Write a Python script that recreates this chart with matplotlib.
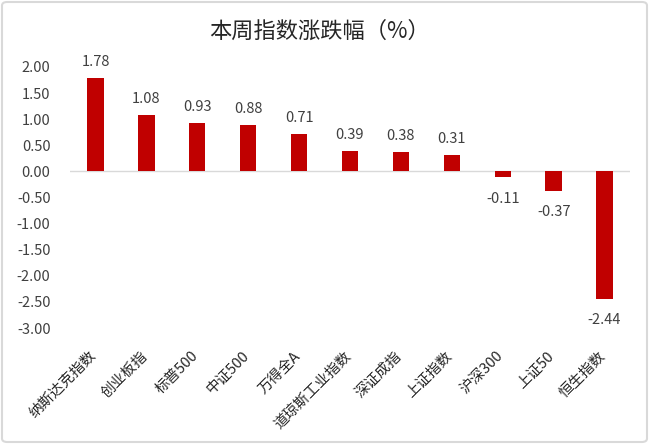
import matplotlib
matplotlib.use("Agg")
import matplotlib.pyplot as plt
from matplotlib.patches import FancyBboxPatch

plt.rcParams['font.family'] = ['Noto Sans CJK SC', 'DejaVu Sans']
plt.rcParams['axes.unicode_minus'] = False

categories = ["纳斯达克指数", "创业板指", "标普500", "中证500", "万得全A", "道琼斯工业指数",
              "深证成指", "上证指数", "沪深300", "上证50", "恒生指数"]
values = [1.78, 1.08, 0.93, 0.88, 0.71, 0.39, 0.38, 0.31, -0.11, -0.37, -2.44]
yticks = [2.0, 1.5, 1.0, 0.5, 0.0, -0.5, -1.0, -1.5, -2.0, -2.5, -3.0]
title = "本周指数涨跌幅（%）"

W, H = 649, 444
fig = plt.figure(figsize=(W / 100, H / 100), dpi=100)
ax = fig.add_axes([70 / W, 1 - 328 / H, 560 / W, 261 / H])

x = list(range(len(categories)))
ax.bar(x, values, width=0.32, color="#C00000", zorder=3)
ax.set_xlim(-0.5, len(categories) - 0.5)
ax.set_ylim(-3.0, 2.0)
ax.axhline(0, color="#D9D9D9", lw=1, zorder=2)

for s in ax.spines.values():
    s.set_visible(False)
ax.set_yticks(yticks)
ax.set_yticklabels([f"{v:.2f}" for v in yticks], fontsize=10.5, color="#404040")
ax.tick_params(axis="y", length=0, pad=14)
ax.tick_params(axis="x", length=0)
ax.set_xticks(x)
ax.set_xticklabels([])

for xi, v, c in zip(x, values, categories):
    if v >= 0:
        ax.annotate(f"{v:.2f}", (xi, v), xytext=(0, 6.5), textcoords="offset points",
                    ha="center", va="bottom", fontsize=10.5, color="#404040")
    else:
        ax.annotate(f"{v:.2f}", (xi, v), xytext=(0, -10.5), textcoords="offset points",
                    ha="center", va="top", fontsize=10.5, color="#404040")
    ax.annotate(c, (xi, -3.0), xytext=(-1, -18.5), textcoords="offset points",
                ha="right", va="center", rotation=45, rotation_mode="anchor",
                fontsize=10.5, color="#262626", annotation_clip=False)

fig.text(319 / W, 1 - 31 / H, title, ha="center", va="center", fontsize=16, color="#262626")

border = FancyBboxPatch((2 / W, 2 / H), 1 - 4 / W, 1 - 4 / H,
                        boxstyle="round,pad=0,rounding_size=0.008",
                        transform=fig.transFigure, fill=False,
                        edgecolor="#D9D9D9", lw=1.5)
fig.patches.append(border)

fig.savefig("out.png", dpi=100)
